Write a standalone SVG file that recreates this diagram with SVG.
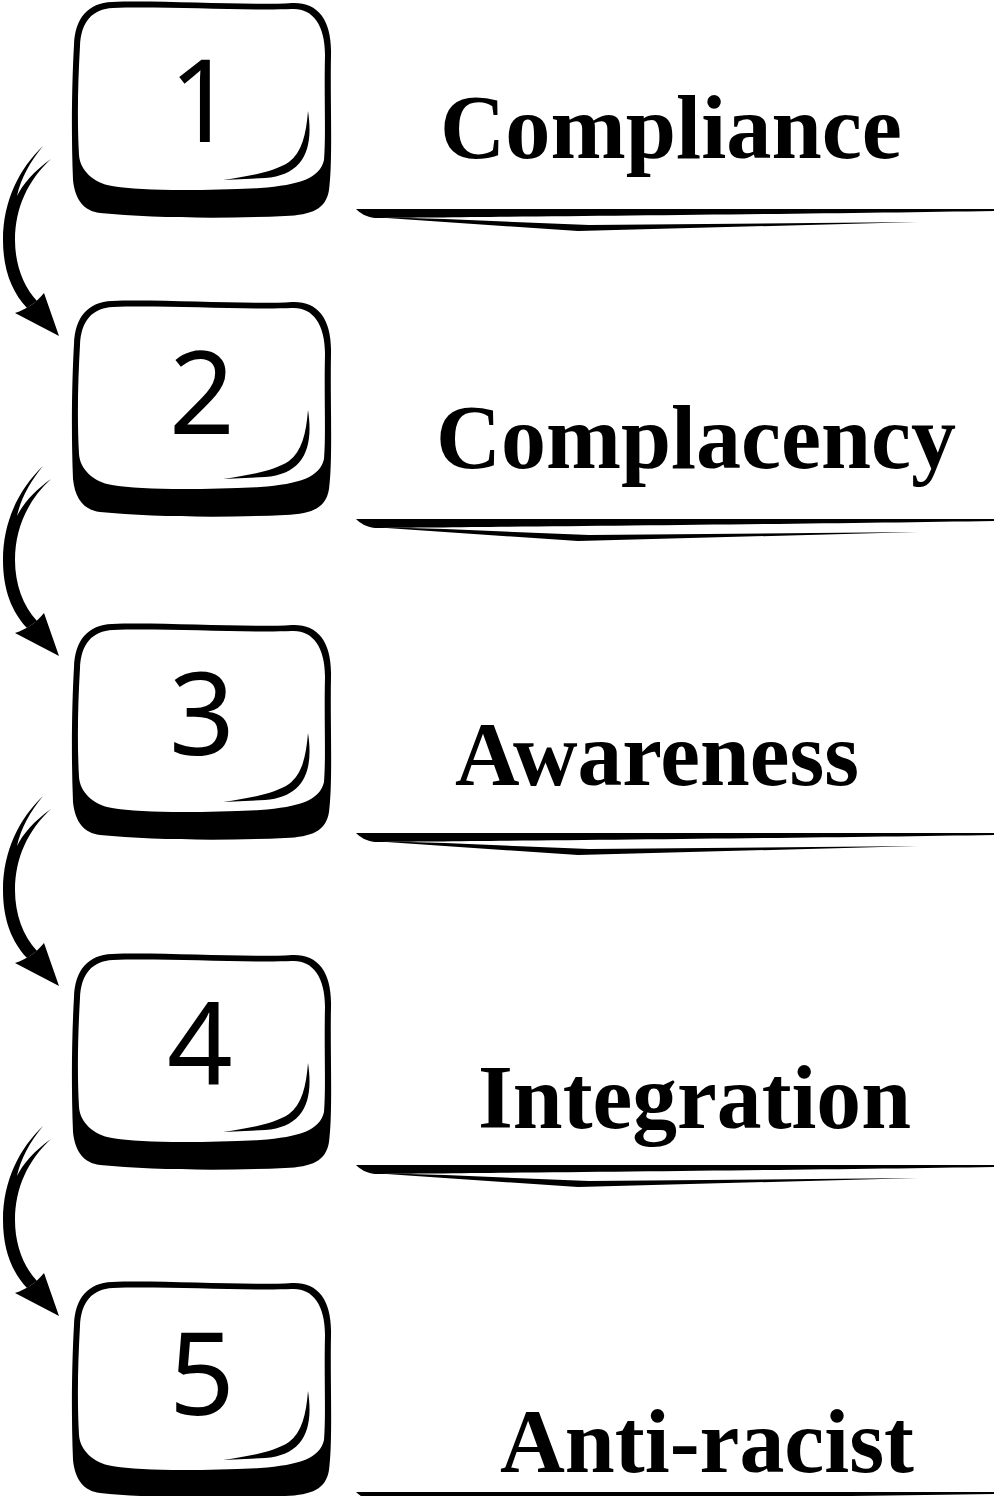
<svg xmlns="http://www.w3.org/2000/svg" xmlns:xlink="http://www.w3.org/1999/xlink" width="995" height="1496" viewBox="0 0 995 1496">
<style>
.num{font-family:"Noto Sans","DejaVu Sans",sans-serif;font-size:115px;fill:#000;text-anchor:middle}
.lbl{font-family:"Liberation Serif","Times New Roman",serif;font-weight:bold;font-size:90px;fill:#000}
.ink{fill:#000}
.face{fill:#fff}
</style>
<defs>
<g id="key">
<path class="ink" d="M 112 2 C 160 0, 250 6, 292 3 C 318 2, 332 20, 331 55 C 330 100, 333 160, 329 190 C 326 209, 312 215, 285 216 C 220 219, 150 218, 100 213 C 84 211, 75 200, 73 180 C 71 130, 72 80, 74 45 C 75 18, 88 3, 112 2 Z"/>
<path class="face" d="M 113 8 C 160 6, 250 11, 292 9 C 312 8, 325 24, 325 55 C 324 100, 326 135, 324 160 C 320 178, 300 185, 260 188 C 200 191, 140 191, 112 186 C 93 183, 80 170, 79 155 C 77 120, 78 80, 80 46 C 81 22, 92 9, 113 8 Z"/>
<path class="ink" d="M 308 111 C 314 150, 303 175, 265 178 L 223 180 C 250 176, 274 172, 289 162 C 302 152, 306 135, 308 111 Z"/>
</g>
<g id="uline">
<path class="ink" d="M 356 209 L 994 209 L 994 211 C 800 214, 500 217, 375 218 C 366 217, 360 213, 356 209 Z"/>
<path class="ink" d="M 372 217 L 445 219 L 589 225 L 918 222 L 578 231 Z"/>
</g>
<g id="arrow">
<path class="ink" d="M 43 146 C 20 168, 3 200, 3 240 C 3 270, 12 292, 27 308 L 37 301 C 23 286, 15 264, 15 240 C 15 208, 28 180, 51 159 C 34 171, 23 184, 17 196 C 21 178, 30 162, 43 146 Z"/>
<path class="ink" d="M 59 336 L 15 313 C 27 309, 36 303, 44 293 Z"/>
</g>
</defs>
<g id="connectors">
<use xlink:href="#arrow"/>
<use xlink:href="#arrow" transform="translate(0,320)"/>
<use xlink:href="#arrow" transform="translate(0,650)"/>
<use xlink:href="#arrow" transform="translate(0,980)"/>
</g>
<g id="node-1">
<use xlink:href="#key"/>
<text class="num" x="202" y="142">1</text>
<text class="lbl" x="440" y="158" textLength="462" lengthAdjust="spacingAndGlyphs">Compliance</text>
<use xlink:href="#uline"/>
</g>
<g id="node-2">
<use xlink:href="#key" transform="translate(0,299)"/>
<text class="num" x="202" y="434">2</text>
<text class="lbl" x="436" y="468" textLength="520" lengthAdjust="spacingAndGlyphs">Complacency</text>
<use xlink:href="#uline" transform="translate(0,310)"/>
</g>
<g id="node-3">
<use xlink:href="#key" transform="translate(0,622)"/>
<text class="num" x="202" y="755">3</text>
<text class="lbl" x="455" y="785" textLength="404" lengthAdjust="spacingAndGlyphs">Awareness</text>
<use xlink:href="#uline" transform="translate(0,624)"/>
</g>
<g id="node-4">
<use xlink:href="#key" transform="translate(0,952)"/>
<text class="num" x="200" y="1085">4</text>
<text class="lbl" x="478" y="1128" textLength="433" lengthAdjust="spacingAndGlyphs">Integration</text>
<use xlink:href="#uline" transform="translate(0,956)"/>
</g>
<g id="node-5">
<use xlink:href="#key" transform="translate(0,1280)"/>
<text class="num" x="202" y="1415">5</text>
<text class="lbl" x="500" y="1472" textLength="414" lengthAdjust="spacingAndGlyphs">Anti-racist</text>
<use xlink:href="#uline" transform="translate(0,1283)"/>
</g>
</svg>
